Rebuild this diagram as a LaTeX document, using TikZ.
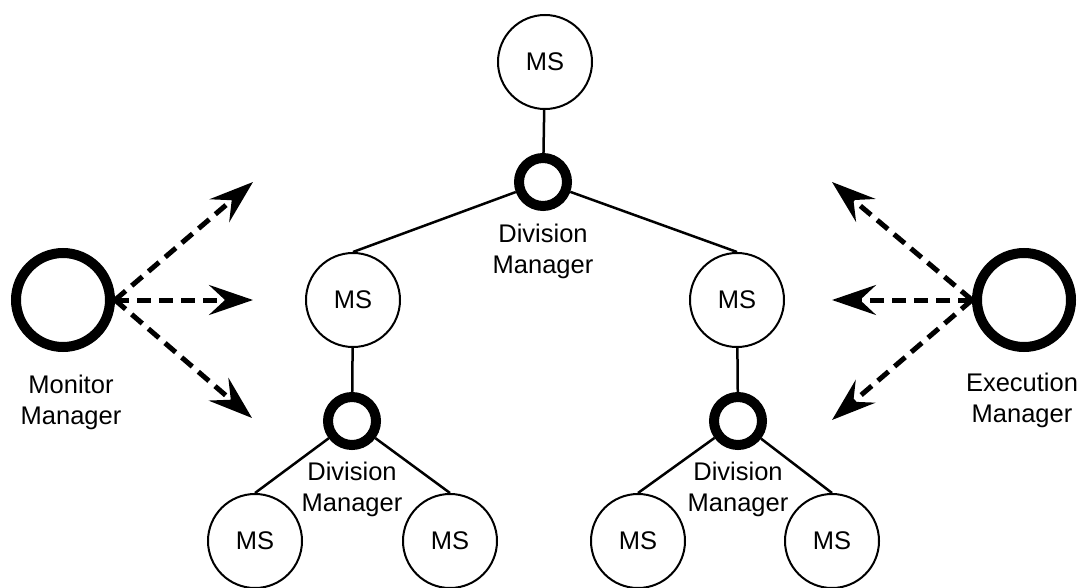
\documentclass[tikz,border=0pt]{standalone}
\usepackage{fontspec}
\setmainfont{Liberation Sans}
\usetikzlibrary{arrows.meta}
\begin{document}
\begin{tikzpicture}[x=1pt,y=-1pt,
  txt/.style={font=\fontsize{25.5}{31}\selectfont},
  ms/.style={circle,draw,line width=2pt,minimum size=94pt,inner sep=0pt,txt},
  dm/.style={circle,draw,line width=10pt,minimum size=48pt,inner sep=0pt},
  mgr/.style={circle,draw,line width=10pt,minimum size=94pt,inner sep=0pt},
  lbl/.style={align=center,inner sep=0pt,anchor=north,txt},
  link/.style={line width=2.5pt},
  flow/.style={line width=5pt,dash pattern=on 14pt off 8pt,
    -{Stealth[length=44pt,width=30pt,inset=16pt]}}]
\useasboundingbox (0,0) rectangle (1081,588);
% tree nodes
\node[ms] (ms0) at (545,62) {MS};
\node[dm] (dm0) at (543,182) {};
\node[lbl] (dm0l) at (543,223.7) {Division\\Manager};
\node[ms] (ms1) at (353,300) {MS};
\node[ms] (ms2) at (737,300) {MS};
\node[dm] (dm1) at (352,421) {};
\node[lbl] (dm1l) at (352,461.7) {Division\\Manager};
\node[dm] (dm2) at (738,421) {};
\node[lbl] (dm2l) at (738,461.7) {Division\\Manager};
\node[ms] (ms11) at (255,541) {MS};
\node[ms] (ms12) at (450,541) {MS};
\node[ms] (ms21) at (638,541) {MS};
\node[ms] (ms22) at (832,541) {MS};
% managers
\node[mgr] (mon) at (63,300) {};
\node[lbl] (monl) at (71,375) {Monitor\\Manager};
\node[mgr] (exe) at (1024,300) {};
\node[lbl] (exel) at (1022,373) {Execution\\Manager};
% tree links
\draw[link] (ms0) -- (dm0);
\draw[link] (dm0) -- (ms1.north);
\draw[link] (dm0) -- (ms2.north);
\draw[link] (ms1) -- (dm1);
\draw[link] (ms2) -- (dm2);
\draw[link] (dm1) -- (ms11.north);
\draw[link] (dm1) -- (ms12.north);
\draw[link] (dm2) -- (ms21.north);
\draw[link] (dm2) -- (ms22.north);
% arrows
\coordinate (m1) at (253,182);
\coordinate (m2) at (253,300);
\coordinate (m3) at (252,418);
\coordinate (e1) at (832,182);
\coordinate (e2) at (832,300);
\coordinate (e3) at (832,420);
\draw[flow] (mon.east) -- (m1);
\draw[flow] (mon.east) -- (m2);
\draw[flow] (mon.east) -- (m3);
\draw[flow] (exe.west) -- (e1);
\draw[flow] (exe.west) -- (e2);
\draw[flow] (exe.west) -- (e3);
\end{tikzpicture}
\end{document}
